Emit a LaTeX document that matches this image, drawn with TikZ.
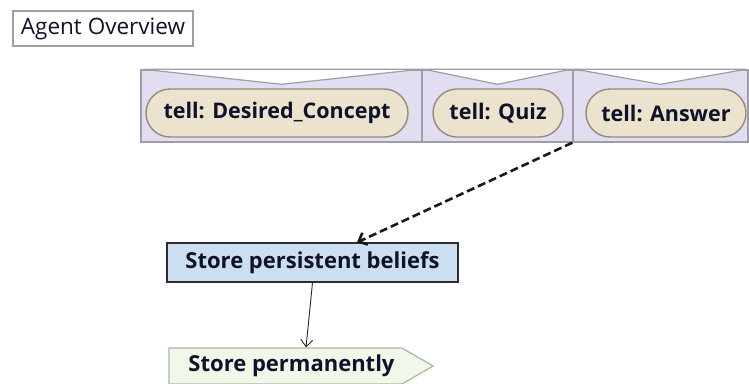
\documentclass[tikz,border=0pt]{standalone}
\usepackage{fontspec}
\setmainfont{Open Sans}
\usetikzlibrary{arrows.meta, calc, positioning, shapes.geometric, shapes.symbols}
\definecolor{bandfill}{RGB}{226, 221, 240}
\definecolor{bandstroke}{RGB}{158, 156, 168}
\definecolor{tellfill}{RGB}{236, 227, 206}
\definecolor{tellstroke}{RGB}{148, 140, 122}
\definecolor{planfill}{RGB}{204, 223, 241}
\definecolor{planstroke}{RGB}{45, 45, 50}
\definecolor{actfill}{RGB}{241, 248, 233}
\definecolor{actstroke}{RGB}{172, 182, 160}
\definecolor{labeltext}{RGB}{14, 18, 42}
\tikzset{
  % title frame in the upper left corner
  overview/.style={
    rectangle, draw=gray!75, fill=white, line width=1.2pt,
    minimum width=180pt, minimum height=35pt, inner sep=0pt,
    font=\fontsize{22.5}{26}\selectfont, text=labeltext
  },
  %
  % event band: one cell per incoming message
  band/.style={
    rectangle, draw=bandstroke, fill=bandfill, line width=1.4pt,
    minimum height=72pt, inner sep=0pt
  },
  notch/.style={fill=white, draw=bandstroke, line width=1.2pt},
  %
  % message nodes inside the band
  tell/.style={
    rectangle, rounded corners=24pt, draw=tellstroke, fill=tellfill,
    line width=1.4pt, minimum height=48pt, inner sep=0pt,
    font=\bfseries\fontsize{21.5}{25}\selectfont, text=labeltext
  },
  %
  % plan and action
  plan/.style={
    rectangle, draw=planstroke, fill=planfill, line width=1.2pt,
    minimum width=291pt, minimum height=39pt, inner sep=0pt,
    font=\bfseries\fontsize{22}{26}\selectfont, text=labeltext
  },
  action/.style={
    signal, signal to=east, signal pointer angle=60,
    draw=actstroke, fill=actfill, line width=1.2pt,
    minimum width=264pt, minimum height=36pt, inner sep=0pt,
    font=\bfseries\fontsize{22}{26}\selectfont, text=labeltext
  },
  %
  % connectors
  trigger edge/.style={
    -{Straight Barb[length=7pt, width=13pt]}, line width=2.6pt,
    dash pattern=on 8pt off 4pt, color=black!90
  },
  flow edge/.style={
    -{Straight Barb[length=7pt, width=12pt]}, line width=0.9pt,
    color=black!85
  },
}

\begin{document}
\begin{tikzpicture}[x=1pt, y=-1pt]
  \useasboundingbox (0,0) rectangle (749,383);

  %% ── Title ─────────────────────────────────────────────────────────────────
  \node[overview] (ov) at (103, 28.5) {Agent Overview};

  %% ── Event band ────────────────────────────────────────────────────────────
  \node[band, minimum width=281pt] (b1) at (281.5, 106) {};
  \node[band, minimum width=151pt] (b2) at (497.5, 106) {};
  \node[band, minimum width=175pt] (b3) at (660.5, 106) {};
  % white notch at the top of each cell
  \foreach \b in {b1, b2, b3} {
    \filldraw[notch] ([xshift=3pt]\b.north west) -- ([yshift=-15pt]\b.north)
      -- ([xshift=-3pt]\b.north east) -- cycle;
  }

  %% ── Messages ──────────────────────────────────────────────────────────────
  \node[tell, minimum width=262pt] (m1) at (277, 113) {tell: Desired\_Concept};
  \node[tell, minimum width=130pt] (m2) at (498, 113) {tell: Quiz};
  \node[tell, minimum width=160pt] (m3) at (666, 113) {tell: Answer};

  %% ── Plan and action ───────────────────────────────────────────────────────
  \node[plan]   (spb) at (312.5, 262.5) {Store persistent beliefs};
  \node[action] (sp)  at (285.5, 366)   {\hspace*{12pt}Store permanently};

  %% ── Connectors ────────────────────────────────────────────────────────────
  \draw[trigger edge] (b3.south west) -- ([xshift=44.5pt]spb.north);
  \draw[flow edge]    (spb.south) -- ([xshift=20.5pt]sp.north);

\end{tikzpicture}
\end{document}
